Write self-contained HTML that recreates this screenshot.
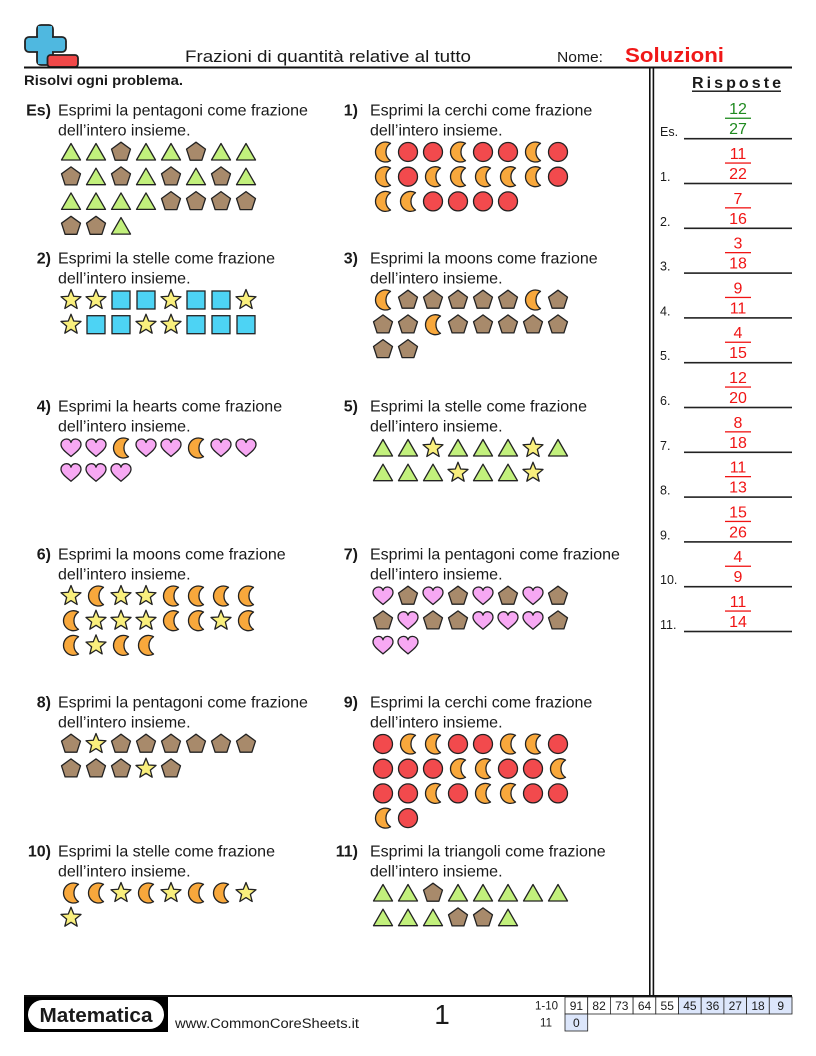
<!DOCTYPE html>
<html><head><meta charset="utf-8"><style>
html,body{margin:0;padding:0;background:#fff;}
svg{display:block;}
text{font-family:"Liberation Sans",Arial,sans-serif;fill:#1a1a1a;}
</style></head><body>
<svg width="816" height="1056" viewBox="0 0 816 1056" xmlns="http://www.w3.org/2000/svg">
<defs>
<polygon id="T" points="0,-8.5 9.5,8 -9.5,8" fill="#c2f07c" stroke="#222" stroke-width="1.3" stroke-linejoin="round"/>
<polygon id="P" points="0,-9.8 9.5,-2.9 5.9,8.2 -5.9,8.2 -9.5,-2.9" fill="#a88a6b" stroke="#222" stroke-width="1.3" stroke-linejoin="round"/>
<circle id="C" cx="0" cy="0" r="9.5" fill="#f24a4d" stroke="#222" stroke-width="1.3"/>
<rect id="Q" x="-9" y="-9" width="18" height="18" fill="#4dd3f4" stroke="#222" stroke-width="1.3"/>
<polygon id="S" points="0,-10.5 2.7,-3.72 9.99,-3.24 4.37,1.42 6.17,8.49 0,4.6 -6.17,8.49 -4.37,1.42 -9.99,-3.24 -2.7,-3.72" fill="#f9ef7d" stroke="#222" stroke-width="1.3" stroke-linejoin="round"/>
<path id="H" d="M0,8.5 C-4,5 -10,1 -10,-3.5 C-10,-7.5 -6.5,-9 -4.5,-9 C-2,-9 -0.5,-7.5 0,-5.5 C0.5,-7.5 2,-9 4.5,-9 C6.5,-9 10,-7.5 10,-3.5 C10,1 4,5 0,8.5 Z" fill="#f7a8f3" stroke="#222" stroke-width="1.3" stroke-linejoin="round"/>
<path id="M" d="M7.5,-8.66 A10,10 0 1 0 7.5,8.66 A10.5,10.5 0 0 1 7.5,-8.66 Z" fill="#f8a83c" stroke="#222" stroke-width="1.3" stroke-linejoin="round"/>
</defs>

<!-- Header logo -->
<rect x="37" y="25" width="16" height="40" rx="4" fill="#4fb8e0" stroke="#222" stroke-width="1.8"/>
<rect x="25" y="37" width="41" height="15" rx="4" fill="#4fb8e0" stroke="#222" stroke-width="1.8"/>
<rect x="38" y="26" width="14" height="38" fill="#4fb8e0"/>
<rect x="47.5" y="55" width="30.5" height="12" rx="3" fill="#f04848" stroke="#222" stroke-width="1.8"/>

<text x="185" y="62" font-size="17" textLength="286" lengthAdjust="spacingAndGlyphs">Frazioni di quantità relative al tutto</text>
<text x="557" y="62" font-size="15" textLength="46" lengthAdjust="spacingAndGlyphs">Nome:</text>
<text x="625" y="62" font-size="20" font-weight="bold" style="fill:#f01818" textLength="99" lengthAdjust="spacingAndGlyphs">Soluzioni</text>

<rect x="24" y="66.5" width="768" height="2" fill="#111"/>
<text x="24" y="85" font-size="13.5" font-weight="bold" textLength="159" lengthAdjust="spacingAndGlyphs">Risolvi ogni problema.</text>

<!-- double vertical line -->
<rect x="649" y="68" width="1.6" height="928" fill="#111"/>
<rect x="652.6" y="68" width="1.6" height="928" fill="#111"/>

<text x="692" y="88" font-size="16" font-weight="bold" textLength="89" lengthAdjust="spacing">Risposte</text>
<rect x="692" y="90.5" width="89" height="1.4" fill="#111"/>

<!-- Problems text -->
<g font-size="16">
<text x="51" y="115.5" text-anchor="end" font-weight="bold">Es)</text>
<text x="58" y="115.5">Esprimi la pentagoni come frazione</text>
<text x="58" y="135.5">dell’intero insieme.</text>

<text x="358" y="115.5" text-anchor="end" font-weight="bold">1)</text>
<text x="370" y="115.5">Esprimi la cerchi come frazione</text>
<text x="370" y="135.5">dell’intero insieme.</text>

<text x="51" y="263.5" text-anchor="end" font-weight="bold">2)</text>
<text x="58" y="263.5">Esprimi la stelle come frazione</text>
<text x="58" y="283.5">dell’intero insieme.</text>

<text x="358" y="263.5" text-anchor="end" font-weight="bold">3)</text>
<text x="370" y="263.5">Esprimi la moons come frazione</text>
<text x="370" y="283.5">dell’intero insieme.</text>

<text x="51" y="411.5" text-anchor="end" font-weight="bold">4)</text>
<text x="58" y="411.5">Esprimi la hearts come frazione</text>
<text x="58" y="431.5">dell’intero insieme.</text>

<text x="358" y="411.5" text-anchor="end" font-weight="bold">5)</text>
<text x="370" y="411.5">Esprimi la stelle come frazione</text>
<text x="370" y="431.5">dell’intero insieme.</text>

<text x="51" y="559.5" text-anchor="end" font-weight="bold">6)</text>
<text x="58" y="559.5">Esprimi la moons come frazione</text>
<text x="58" y="579.5">dell’intero insieme.</text>

<text x="358" y="559.5" text-anchor="end" font-weight="bold">7)</text>
<text x="370" y="559.5">Esprimi la pentagoni come frazione</text>
<text x="370" y="579.5">dell’intero insieme.</text>

<text x="51" y="707.5" text-anchor="end" font-weight="bold">8)</text>
<text x="58" y="707.5">Esprimi la pentagoni come frazione</text>
<text x="58" y="727.5">dell’intero insieme.</text>

<text x="358" y="707.5" text-anchor="end" font-weight="bold">9)</text>
<text x="370" y="707.5">Esprimi la cerchi come frazione</text>
<text x="370" y="727.5">dell’intero insieme.</text>

<text x="51" y="856.5" text-anchor="end" font-weight="bold">10)</text>
<text x="58" y="856.5">Esprimi la stelle come frazione</text>
<text x="58" y="876.5">dell’intero insieme.</text>

<text x="358" y="856.5" text-anchor="end" font-weight="bold">11)</text>
<text x="370" y="856.5">Esprimi la triangoli come frazione</text>
<text x="370" y="876.5">dell’intero insieme.</text>
</g>

<!-- Es shapes (left, y1=110) -->
<g transform="translate(71,152)">
<use href="#T" x="0"/><use href="#T" x="25"/><use href="#P" x="50"/><use href="#T" x="75"/><use href="#T" x="100"/><use href="#P" x="125"/><use href="#T" x="150"/><use href="#T" x="175"/>
<use href="#P" x="0" y="24.7"/><use href="#T" x="25" y="24.7"/><use href="#P" x="50" y="24.7"/><use href="#T" x="75" y="24.7"/><use href="#P" x="100" y="24.7"/><use href="#T" x="125" y="24.7"/><use href="#P" x="150" y="24.7"/><use href="#T" x="175" y="24.7"/>
<use href="#T" x="0" y="49.4"/><use href="#T" x="25" y="49.4"/><use href="#T" x="50" y="49.4"/><use href="#T" x="75" y="49.4"/><use href="#P" x="100" y="49.4"/><use href="#P" x="125" y="49.4"/><use href="#P" x="150" y="49.4"/><use href="#P" x="175" y="49.4"/>
<use href="#P" x="0" y="74.1"/><use href="#P" x="25" y="74.1"/><use href="#T" x="50" y="74.1"/>
</g>

<!-- 1 shapes (right, y1=110) -->
<g transform="translate(383,152)">
<use href="#M" x="0"/><use href="#C" x="25"/><use href="#C" x="50"/><use href="#M" x="75"/><use href="#C" x="100"/><use href="#C" x="125"/><use href="#M" x="150"/><use href="#C" x="175"/>
<use href="#M" x="0" y="24.7"/><use href="#C" x="25" y="24.7"/><use href="#M" x="50" y="24.7"/><use href="#M" x="75" y="24.7"/><use href="#M" x="100" y="24.7"/><use href="#M" x="125" y="24.7"/><use href="#M" x="150" y="24.7"/><use href="#C" x="175" y="24.7"/>
<use href="#M" x="0" y="49.4"/><use href="#M" x="25" y="49.4"/><use href="#C" x="50" y="49.4"/><use href="#C" x="75" y="49.4"/><use href="#C" x="100" y="49.4"/><use href="#C" x="125" y="49.4"/>
</g>

<!-- 2 shapes (left, y1=258) -->
<g transform="translate(71,300)">
<use href="#S" x="0"/><use href="#S" x="25"/><use href="#Q" x="50"/><use href="#Q" x="75"/><use href="#S" x="100"/><use href="#Q" x="125"/><use href="#Q" x="150"/><use href="#S" x="175"/>
<use href="#S" x="0" y="24.7"/><use href="#Q" x="25" y="24.7"/><use href="#Q" x="50" y="24.7"/><use href="#S" x="75" y="24.7"/><use href="#S" x="100" y="24.7"/><use href="#Q" x="125" y="24.7"/><use href="#Q" x="150" y="24.7"/><use href="#Q" x="175" y="24.7"/>
</g>

<!-- 3 shapes (right, y1=258) -->
<g transform="translate(383,300)">
<use href="#M" x="0"/><use href="#P" x="25"/><use href="#P" x="50"/><use href="#P" x="75"/><use href="#P" x="100"/><use href="#P" x="125"/><use href="#M" x="150"/><use href="#P" x="175"/>
<use href="#P" x="0" y="24.7"/><use href="#P" x="25" y="24.7"/><use href="#M" x="50" y="24.7"/><use href="#P" x="75" y="24.7"/><use href="#P" x="100" y="24.7"/><use href="#P" x="125" y="24.7"/><use href="#P" x="150" y="24.7"/><use href="#P" x="175" y="24.7"/>
<use href="#P" x="0" y="49.4"/><use href="#P" x="25" y="49.4"/>
</g>

<!-- 4 shapes (left, y1=406) -->
<g transform="translate(71,448)">
<use href="#H" x="0"/><use href="#H" x="25"/><use href="#M" x="50"/><use href="#H" x="75"/><use href="#H" x="100"/><use href="#M" x="125"/><use href="#H" x="150"/><use href="#H" x="175"/>
<use href="#H" x="0" y="24.7"/><use href="#H" x="25" y="24.7"/><use href="#H" x="50" y="24.7"/>
</g>

<!-- 5 shapes (right, y1=406) -->
<g transform="translate(383,448)">
<use href="#T" x="0"/><use href="#T" x="25"/><use href="#S" x="50"/><use href="#T" x="75"/><use href="#T" x="100"/><use href="#T" x="125"/><use href="#S" x="150"/><use href="#T" x="175"/>
<use href="#T" x="0" y="24.7"/><use href="#T" x="25" y="24.7"/><use href="#T" x="50" y="24.7"/><use href="#S" x="75" y="24.7"/><use href="#T" x="100" y="24.7"/><use href="#T" x="125" y="24.7"/><use href="#S" x="150" y="24.7"/>
</g>

<!-- 6 shapes (left, y1=554) -->
<g transform="translate(71,596)">
<use href="#S" x="0"/><use href="#M" x="25"/><use href="#S" x="50"/><use href="#S" x="75"/><use href="#M" x="100"/><use href="#M" x="125"/><use href="#M" x="150"/><use href="#M" x="175"/>
<use href="#M" x="0" y="24.7"/><use href="#S" x="25" y="24.7"/><use href="#S" x="50" y="24.7"/><use href="#S" x="75" y="24.7"/><use href="#M" x="100" y="24.7"/><use href="#M" x="125" y="24.7"/><use href="#S" x="150" y="24.7"/><use href="#M" x="175" y="24.7"/>
<use href="#M" x="0" y="49.4"/><use href="#S" x="25" y="49.4"/><use href="#M" x="50" y="49.4"/><use href="#M" x="75" y="49.4"/>
</g>

<!-- 7 shapes (right, y1=554) -->
<g transform="translate(383,596)">
<use href="#H" x="0"/><use href="#P" x="25"/><use href="#H" x="50"/><use href="#P" x="75"/><use href="#H" x="100"/><use href="#P" x="125"/><use href="#H" x="150"/><use href="#P" x="175"/>
<use href="#P" x="0" y="24.7"/><use href="#H" x="25" y="24.7"/><use href="#P" x="50" y="24.7"/><use href="#P" x="75" y="24.7"/><use href="#H" x="100" y="24.7"/><use href="#H" x="125" y="24.7"/><use href="#H" x="150" y="24.7"/><use href="#P" x="175" y="24.7"/>
<use href="#H" x="0" y="49.4"/><use href="#H" x="25" y="49.4"/>
</g>

<!-- 8 shapes (left, y1=702) -->
<g transform="translate(71,744)">
<use href="#P" x="0"/><use href="#S" x="25"/><use href="#P" x="50"/><use href="#P" x="75"/><use href="#P" x="100"/><use href="#P" x="125"/><use href="#P" x="150"/><use href="#P" x="175"/>
<use href="#P" x="0" y="24.7"/><use href="#P" x="25" y="24.7"/><use href="#P" x="50" y="24.7"/><use href="#S" x="75" y="24.7"/><use href="#P" x="100" y="24.7"/>
</g>

<!-- 9 shapes (right, y1=702) -->
<g transform="translate(383,744)">
<use href="#C" x="0"/><use href="#M" x="25"/><use href="#M" x="50"/><use href="#C" x="75"/><use href="#C" x="100"/><use href="#M" x="125"/><use href="#M" x="150"/><use href="#C" x="175"/>
<use href="#C" x="0" y="24.7"/><use href="#C" x="25" y="24.7"/><use href="#C" x="50" y="24.7"/><use href="#M" x="75" y="24.7"/><use href="#M" x="100" y="24.7"/><use href="#C" x="125" y="24.7"/><use href="#C" x="150" y="24.7"/><use href="#M" x="175" y="24.7"/>
<use href="#C" x="0" y="49.4"/><use href="#C" x="25" y="49.4"/><use href="#M" x="50" y="49.4"/><use href="#C" x="75" y="49.4"/><use href="#M" x="100" y="49.4"/><use href="#M" x="125" y="49.4"/><use href="#C" x="150" y="49.4"/><use href="#C" x="175" y="49.4"/>
<use href="#M" x="0" y="74.1"/><use href="#C" x="25" y="74.1"/>
</g>

<!-- 10 shapes (left, y1=851) -->
<g transform="translate(71,893)">
<use href="#M" x="0"/><use href="#M" x="25"/><use href="#S" x="50"/><use href="#M" x="75"/><use href="#S" x="100"/><use href="#M" x="125"/><use href="#M" x="150"/><use href="#S" x="175"/>
<use href="#S" x="0" y="24.7"/>
</g>

<!-- 11 shapes (right, y1=851) -->
<g transform="translate(383,893)">
<use href="#T" x="0"/><use href="#T" x="25"/><use href="#P" x="50"/><use href="#T" x="75"/><use href="#T" x="100"/><use href="#T" x="125"/><use href="#T" x="150"/><use href="#T" x="175"/>
<use href="#T" x="0" y="24.7"/><use href="#T" x="25" y="24.7"/><use href="#T" x="50" y="24.7"/><use href="#P" x="75" y="24.7"/><use href="#P" x="100" y="24.7"/><use href="#T" x="125" y="24.7"/>
</g>

<!-- Answers -->
<g font-size="12.5">
<text x="660" y="136.2">Es.</text>
<text x="660" y="181">1.</text>
<text x="660" y="225.8">2.</text>
<text x="660" y="270.6">3.</text>
<text x="660" y="315.4">4.</text>
<text x="660" y="360.2">5.</text>
<text x="660" y="405">6.</text>
<text x="660" y="449.8">7.</text>
<text x="660" y="494.6">8.</text>
<text x="660" y="539.4">9.</text>
<text x="660" y="584.2">10.</text>
<text x="660" y="629">11.</text>
</g>
<g fill="#222">
<rect x="684" y="137.9" width="108" height="1.6"/>
<rect x="684" y="182.7" width="108" height="1.6"/>
<rect x="684" y="227.5" width="108" height="1.6"/>
<rect x="684" y="272.3" width="108" height="1.6"/>
<rect x="684" y="317.1" width="108" height="1.6"/>
<rect x="684" y="361.9" width="108" height="1.6"/>
<rect x="684" y="406.7" width="108" height="1.6"/>
<rect x="684" y="451.5" width="108" height="1.6"/>
<rect x="684" y="496.3" width="108" height="1.6"/>
<rect x="684" y="541.1" width="108" height="1.6"/>
<rect x="684" y="585.9" width="108" height="1.6"/>
<rect x="684" y="630.7" width="108" height="1.6"/>
</g>
<!-- fractions -->
<g font-size="16" text-anchor="middle">
<text x="738" y="114.2" style="fill:#1f8a1f">12</text><rect x="725" y="117.6" width="26" height="1.3" fill="#1f8a1f"/><text x="738" y="134.2" style="fill:#1f8a1f">27</text>
</g>
<g font-size="16" text-anchor="middle" style="fill:#f01414">
<text x="738" y="159" style="fill:#f01414">11</text><rect x="725" y="162.4" width="26" height="1.3" fill="#f01414"/><text x="738" y="179" style="fill:#f01414">22</text>
<text x="738" y="203.8" style="fill:#f01414">7</text><rect x="725" y="207.2" width="26" height="1.3" fill="#f01414"/><text x="738" y="223.8" style="fill:#f01414">16</text>
<text x="738" y="248.6" style="fill:#f01414">3</text><rect x="725" y="252" width="26" height="1.3" fill="#f01414"/><text x="738" y="268.6" style="fill:#f01414">18</text>
<text x="738" y="293.4" style="fill:#f01414">9</text><rect x="725" y="296.8" width="26" height="1.3" fill="#f01414"/><text x="738" y="313.4" style="fill:#f01414">11</text>
<text x="738" y="338.2" style="fill:#f01414">4</text><rect x="725" y="341.6" width="26" height="1.3" fill="#f01414"/><text x="738" y="358.2" style="fill:#f01414">15</text>
<text x="738" y="383" style="fill:#f01414">12</text><rect x="725" y="386.4" width="26" height="1.3" fill="#f01414"/><text x="738" y="403" style="fill:#f01414">20</text>
<text x="738" y="427.8" style="fill:#f01414">8</text><rect x="725" y="431.2" width="26" height="1.3" fill="#f01414"/><text x="738" y="447.8" style="fill:#f01414">18</text>
<text x="738" y="472.6" style="fill:#f01414">11</text><rect x="725" y="476" width="26" height="1.3" fill="#f01414"/><text x="738" y="492.6" style="fill:#f01414">13</text>
<text x="738" y="517.4" style="fill:#f01414">15</text><rect x="725" y="520.8" width="26" height="1.3" fill="#f01414"/><text x="738" y="537.4" style="fill:#f01414">26</text>
<text x="738" y="562.2" style="fill:#f01414">4</text><rect x="725" y="565.6" width="26" height="1.3" fill="#f01414"/><text x="738" y="582.2" style="fill:#f01414">9</text>
<text x="738" y="607" style="fill:#f01414">11</text><rect x="725" y="610.4" width="26" height="1.3" fill="#f01414"/><text x="738" y="627" style="fill:#f01414">14</text>
</g>

<!-- Footer -->
<rect x="24" y="995" width="768" height="2" fill="#111"/>
<rect x="24" y="997" width="144" height="35" fill="#000"/>
<rect x="28" y="1000" width="136" height="29" rx="14.5" fill="#fff"/>
<text x="96" y="1022" font-size="20" font-weight="bold" text-anchor="middle" textLength="113" lengthAdjust="spacingAndGlyphs">Matematica</text>
<text x="175" y="1028" font-size="13.5" textLength="184" lengthAdjust="spacingAndGlyphs">www.CommonCoreSheets.it</text>
<text x="442" y="1024" font-size="28" text-anchor="middle">1</text>

<text x="558" y="1009.5" font-size="11.5" text-anchor="end">1-10</text>
<text x="552" y="1026.5" font-size="11.5" text-anchor="end">11</text>
<g stroke="#222" stroke-width="0.8">
<rect x="565" y="997" width="22.7" height="17" fill="#fff"/>
<rect x="587.7" y="997" width="22.7" height="17" fill="#fff"/>
<rect x="610.4" y="997" width="22.7" height="17" fill="#fff"/>
<rect x="633.1" y="997" width="22.7" height="17" fill="#fff"/>
<rect x="655.8" y="997" width="22.7" height="17" fill="#fff"/>
<rect x="678.5" y="997" width="22.7" height="17" fill="#dce6fb"/>
<rect x="701.2" y="997" width="22.7" height="17" fill="#dce6fb"/>
<rect x="723.9" y="997" width="22.7" height="17" fill="#dce6fb"/>
<rect x="746.6" y="997" width="22.7" height="17" fill="#dce6fb"/>
<rect x="769.3" y="997" width="22.7" height="17" fill="#dce6fb"/>
<rect x="565" y="1014" width="22.7" height="17" fill="#dce6fb"/>
</g>
<g font-size="12" text-anchor="middle">
<text x="576.4" y="1010">91</text>
<text x="599.1" y="1010">82</text>
<text x="621.8" y="1010">73</text>
<text x="644.5" y="1010">64</text>
<text x="667.2" y="1010">55</text>
<text x="689.9" y="1010">45</text>
<text x="712.6" y="1010">36</text>
<text x="735.3" y="1010">27</text>
<text x="758" y="1010">18</text>
<text x="780.7" y="1010">9</text>
<text x="576.4" y="1027">0</text>
</g>
</svg>
</body></html>
